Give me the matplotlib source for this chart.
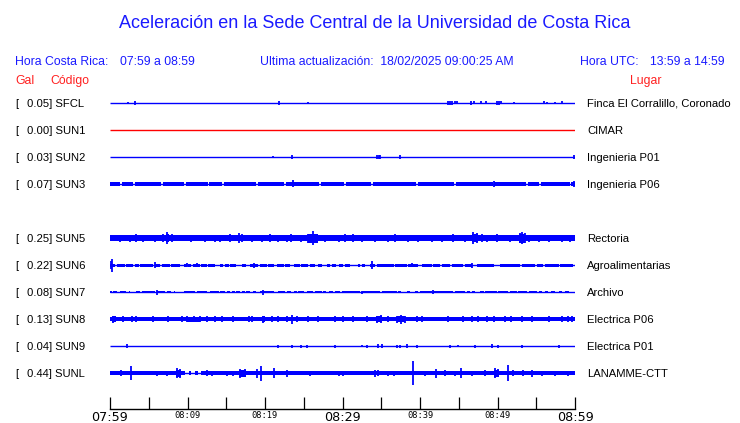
import matplotlib
matplotlib.use("Agg")
import matplotlib.pyplot as plt

###================ Data =========================================###

codes = ["SFCL", "SUN1", "SUN2", "SUN3", "SUN5", "SUN6", "SUN7", "SUN8", "SUN9", "SUNL"]
gal = [0.05, 0.00, 0.03, 0.07, 0.25, 0.22, 0.08, 0.13, 0.04, 0.44]
places = ["Finca El Corralillo, Coronado", "CIMAR", "Ingenieria P01", "Ingenieria P06",
          "Rectoria", "Agroalimentarias", "Archivo", "Electrica P06", "Electrica P01",
          "LANAMME-CTT"]
# row slot of each station (SUN4 is missing, slot 4 left empty)
slots = [0, 1, 2, 3, 5, 6, 7, 8, 9, 10]

# minute ticks from 07:59
tick_labels = ["07:59", "08:09", "08:19", "08:29", "08:39", "08:49", "08:59"]
big_labels = ["07:59", "08:29", "08:59"]

# thick parts of each trace: (start min, end min, half height px)
segments = {
    "SFCL": [],
    "SUN1": [],
    "SUN2": [],
    "SUN3": [(0, 1.3, 1.6), (1.5, 3.0, 1.6), (3.2, 6.6, 1.6), (6.8, 9.6, 1.6), (9.8, 12.6, 1.6),
             (12.8, 14.5, 1.6), (14.7, 18.9, 1.6), (19.1, 22.5, 1.6), (22.7, 27.0, 1.6),
             (27.2, 30.2, 1.6), (30.4, 33.7, 1.6), (33.9, 39.5, 1.6), (39.7, 44.4, 1.6),
             (44.6, 49.4, 1.6), (49.6, 53.7, 1.6), (53.9, 55.4, 1.6), (55.6, 59.3, 1.6),
             (59.5, 60, 1.6)],
    "SUN5": [(0, 60, 2.6), (7.2, 7.6, 4), (25.6, 26.8, 4.5), (46.7, 47.5, 4), (52.8, 53.6, 4.5)],
    "SUN6": [(0.0, 0.6, 1.5), (0.9, 1.9, 1.5), (2.1, 3.0, 1.5), (3.2, 3.7, 1.5), (3.9, 5.6, 1.5),
             (5.8, 6.5, 1.5), (6.7, 7.7, 1.5), (7.9, 9.0, 1.5), (9.5, 9.9, 1.5), (10.1, 10.5, 1.5),
             (10.7, 11.6, 1.5), (11.8, 12.5, 1.5), (12.7, 13.5, 1.5), (14.2, 14.6, 1.5),
             (14.8, 15.3, 1.5), (15.5, 16.3, 1.5), (17.0, 17.6, 1.5), (18.1, 19.1, 1.5),
             (19.4, 20.2, 1.5), (20.4, 21.1, 1.5), (21.5, 22.4, 1.5), (22.6, 23.2, 1.5),
             (23.7, 24.5, 1.5), (24.7, 25.6, 1.5), (25.8, 26.4, 1.5), (26.9, 27.3, 1.5),
             (28.0, 28.4, 1.5), (28.6, 29.2, 1.5), (29.5, 30.1, 1.5), (30.3, 31.0, 1.5),
             (32.0, 32.3, 1.5), (32.5, 32.9, 1.5), (33.5, 34.2, 1.5), (34.4, 36.6, 1.5),
             (36.8, 38.3, 1.5), (38.5, 39.8, 1.5), (40.2, 41.5, 1.5), (41.7, 42.6, 1.5),
             (42.8, 43.9, 1.5), (44.1, 45.6, 1.5), (45.8, 46.7, 1.5), (47.3, 49.5, 1.5),
             (50.3, 52.9, 1.5), (53.1, 54.8, 1.5), (55.1, 55.9, 1.5), (56.1, 57.9, 1.5),
             (58.1, 59.8, 1.5)],
    "SUN7": [(0.0, 0.2, 1), (0.4, 0.9, 1), (1.3, 2.1, 1), (2.4, 2.6, 1), (3.4, 3.9, 1),
             (4.1, 5.8, 1), (6.0, 7.1, 1), (7.3, 7.9, 1), (8.2, 8.4, 1), (9.5, 11.0, 1),
             (11.2, 12.5, 1), (12.9, 14.0, 1), (14.2, 14.8, 1), (15.1, 15.5, 1), (15.7, 16.1, 1),
             (16.3, 16.8, 1), (17.0, 17.4, 1), (17.6, 18.1, 1), (18.5, 18.9, 1), (19.4, 21.1, 1),
             (21.7, 22.6, 1), (22.8, 23.4, 1), (23.7, 24.1, 1), (24.3, 25.0, 1), (25.4, 26.2, 1),
             (26.4, 27.3, 1), (27.5, 27.9, 1), (28.2, 28.8, 1), (29.0, 29.7, 1), (29.9, 32.3, 1),
             (32.5, 34.8, 1), (35.1, 37.0, 1), (37.2, 37.6, 1), (38.3, 38.7, 1), (39.4, 39.8, 1),
             (40.0, 41.5, 1), (41.7, 44.3, 1), (44.5, 45.8, 1), (46.0, 46.5, 1), (46.7, 47.1, 1),
             (47.7, 48.2, 1), (48.4, 49.9, 1), (50.1, 51.4, 1), (51.6, 52.5, 1), (52.7, 53.8, 1),
             (54.0, 55.1, 1), (55.3, 55.7, 1), (56.1, 56.5, 1), (56.9, 57.4, 1), (57.9, 58.3, 1),
             (58.7, 59.2, 1)],
    "SUN8": [(0, 60, 1.8), (0.2, 0.8, 3), (9.9, 11.6, 2.5), (19.6, 20.0, 3), (34.3, 35.1, 3),
             (37.0, 38.1, 3)],
    "SUN9": [],
    "SUNL": [(0, 9.7, 1.8), (10.2, 10.5, 1.8), (11.0, 11.3, 1.8), (11.8, 60, 1.8),
             (8.5, 9.1, 3.5), (16.7, 17.5, 3.5), (49.5, 50.2, 3.5)],
}

# single peaks: (minute, half height px)
spikes = {
    "SFCL": [(2.3, 1), (3.2, 2), (21.8, 2), (25.5, 1), (43.6, 2), (43.9, 2), (44.1, 2), (44.5, 1.5),
             (44.8, 1.5), (46.6, 2), (47.0, 1.5), (47.9, 1.5), (48.5, 1.5), (49.9, 2), (50.2, 2),
             (50.5, 1.5), (52.1, 1), (56.0, 1.5), (56.4, 1), (57.4, 1), (58.3, 1.5)],
    "SUN1": [],
    "SUN2": [(21.0, 1), (23.5, 2), (34.5, 2), (34.7, 2), (34.9, 2), (37.4, 2), (59.9, 2)],
    "SUN3": [(23.6, 3.5), (49.6, 3), (59.9, 3)],
    "SUN5": [(1.3, 3.5), (2.6, 3.5), (3.4, 4), (4.3, 3.5), (5.8, 3.5), (6.9, 4), (7.4, 6), (8.0, 4),
             (10.5, 3.5), (12.3, 3.5), (13.5, 3.5), (14.2, 3.5), (15.5, 4), (16.6, 5), (17.0, 4),
             (18.3, 3.5), (19.6, 3.5), (20.6, 4), (21.7, 3.5), (22.8, 3.5), (23.4, 4), (24.7, 3.5),
             (25.6, 4.5), (26.2, 7), (26.7, 4.5), (27.7, 3.5), (29.5, 3.5), (30.3, 4), (31.4, 4),
             (32.5, 3.5), (34.2, 3.5), (35.9, 3.5), (36.8, 4), (38.5, 3.5), (39.8, 3.5), (41.5, 3.5),
             (42.8, 3.5), (44.3, 4), (45.8, 3.5), (46.9, 6), (47.3, 5), (48.0, 4), (48.6, 3.5),
             (49.9, 4), (51.6, 3.5), (52.9, 5), (53.1, 6), (53.5, 5), (54.0, 3.5), (55.3, 3.5),
             (56.6, 3.5), (58.3, 3.5), (59.4, 3.5)],
    "SUN6": [(0.1, 4), (0.3, 6.5), (5.8, 3), (9.9, 2), (11.2, 2), (18.6, 2.5), (33.8, 4), (39.0, 2),
             (46.7, 2.5)],
    "SUN7": [(6.1, 2.5), (19.8, 2.5), (32.5, 1.5), (41.7, 2)],
    "SUN8": [(0.4, 3.5), (1.7, 3), (2.8, 3), (3.4, 3), (5.6, 3), (7.5, 3), (9.3, 3), (9.9, 3),
             (10.8, 3), (11.6, 3), (12.5, 3), (13.6, 3), (14.4, 3), (15.9, 3), (17.9, 3), (18.3, 3),
             (19.8, 3.5), (20.9, 3), (21.7, 3), (22.8, 3), (23.5, 4.5), (24.1, 3), (25.6, 3),
             (26.9, 3), (29.0, 3), (30.1, 3), (31.4, 3), (33.1, 3), (34.4, 3.5), (35.0, 4),
             (35.9, 3), (37.0, 3.5), (37.6, 4.5), (38.1, 3.5), (39.6, 3), (40.2, 3), (43.6, 3),
             (45.6, 3), (46.7, 3), (47.5, 3), (48.6, 3), (49.5, 3), (51.0, 3), (51.8, 3), (53.1, 3),
             (54.4, 3), (56.6, 3), (58.3, 3), (59.1, 3), (59.6, 3)],
    "SUN9": [(2.2, 2), (21.7, 1.5), (23.5, 1.5), (24.7, 1.5), (25.4, 1.5), (29.0, 1.5), (32.5, 1),
             (33.1, 1.5), (34.6, 2), (35.1, 2), (37.0, 1.5), (37.4, 1.5), (38.3, 2), (39.6, 1.5),
             (43.9, 1.5), (44.9, 1), (47.1, 1.5), (49.3, 2), (50.1, 1.5), (53.1, 1.5), (57.9, 1.5)],
    "SUNL": [(1.4, 3), (2.7, 7), (6.0, 2.5), (7.3, 2.5), (8.6, 5), (9.0, 4.5), (10.3, 2), (12.5, 3),
             (13.1, 2.5), (15.1, 2.5), (15.9, 2.5), (16.8, 4.5), (17.4, 4), (19.0, 4.5), (19.5, 7.5),
             (21.1, 5), (22.8, 3.5), (25.8, 2.5), (29.5, 2.5), (30.1, 2.5), (34.2, 3.5), (34.6, 3),
             (35.9, 2.5), (36.6, 2.5), (39.1, 12), (40.6, 2.5), (42.0, 4.5), (43.2, 3), (44.5, 2.5),
             (45.3, 5), (46.7, 2.5), (48.4, 3), (49.7, 5), (50.1, 4), (51.4, 8), (52.0, 3), (53.3, 3),
             (54.4, 3.5), (55.7, 2.5), (57.4, 2.5), (59.1, 2.5)],
}

###================ Layout =================###

W, H = 740, 423
BLUE = "#0000ff"
TXT_BLUE = "#1a1aff"
RED = "#ff0000"
FONT = "Liberation Sans"


def fx(x):
    return x / W


def fy(y):
    return 1 - y / H


fig = plt.figure(figsize=(W / 100, H / 100), dpi=100)
fig.patch.set_facecolor("white")

# plot area: x in minutes, y in pixels from the top of the figure
axis_y = 409
ax = fig.add_axes([fx(110), fy(axis_y), fx(575) - fx(110), 1 - fy(axis_y)])
ax.set_xlim(0, 60)
ax.set_ylim(axis_y, 0)
for s in ["top", "left", "right"]:
    ax.spines[s].set_visible(False)
ax.spines["bottom"].set_linewidth(1.0)
ax.set_yticks([])
ax.set_xticks(range(0, 61, 10))
ax.set_xticks(range(5, 60, 10), minor=True)
ax.set_xticklabels(tick_labels)
ax.tick_params(axis="x", which="both", direction="in", length=9, width=0.9, pad=1.5)
for lbl in ax.get_xticklabels():
    if lbl.get_text() in big_labels:
        lbl.set_fontfamily("DejaVu Sans")
        lbl.set_fontsize(9.2)
    else:
        lbl.set_fontfamily("DejaVu Sans Mono")
        lbl.set_fontsize(6.3)

for code, g, place, slot in zip(codes, gal, places, slots):
    y = 103 + 27 * slot
    color = RED if g == 0 else BLUE
    ax.hlines(y, 0, 60, color=color, lw=1.0)
    for t0, t1, h in segments[code]:
        ax.fill_between([t0, t1], y - h, y + h, color=color, lw=0)
    if spikes[code]:
        ts = [t for t, _ in spikes[code]]
        hs = [h for _, h in spikes[code]]
        ax.vlines(ts, [y - h for h in hs], [y + h for h in hs], color=color, lw=1.3)

    ty = y + 1
    fig.text(fx(15), fy(ty), "[", fontsize=8.1, family=FONT, va="center", ha="left")
    fig.text(fx(27), fy(ty), f"{g:.2f}] {code}", fontsize=8.1, family=FONT, va="center", ha="left")
    fig.text(fx(587), fy(ty), place, fontsize=8.1, family=FONT, va="center", ha="left")

# titles and header
fig.text(fx(375), fy(23), "Aceleración en la Sede Central de la Universidad de Costa Rica",
         fontsize=13, family=FONT, color=TXT_BLUE, ha="center", va="center")
hdr = dict(fontsize=8.8, family=FONT, color=TXT_BLUE, ha="left", va="center")
fig.text(fx(15), fy(62), "Hora Costa Rica:", **hdr)
fig.text(fx(120), fy(62), "07:59 a 08:59", **hdr)
fig.text(fx(260), fy(62), "Ultima actualización:  18/02/2025 09:00:25 AM", **hdr)
fig.text(fx(580), fy(62), "Hora UTC:", **hdr)
fig.text(fx(650), fy(62), "13:59 a 14:59", **hdr)
red = dict(fontsize=8.8, family=FONT, color="#ff2020", ha="left", va="center")
fig.text(fx(15), fy(81), "Gal", **red)
fig.text(fx(50), fy(81), "Código", **red)
fig.text(fx(630), fy(81), "Lugar", **red)

fig.savefig("out.png", dpi=100)
